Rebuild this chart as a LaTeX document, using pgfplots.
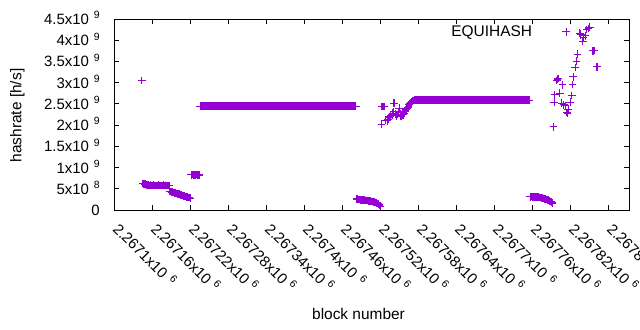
\documentclass[border=0pt]{standalone}
\usepackage{fontspec}
\setmainfont{Liberation Sans}
\usepackage{pgfplots}
\pgfplotsset{compat=1.18}
\usepackage{pgfplotstable}
\definecolor{gpviolet}{HTML}{9400D3}
\newcommand{\fs}{\fontsize{15.5}{18}\selectfont}
\newcommand{\tfs}{\fontsize{15}{18}\selectfont}
\newcommand{\sci}[2]{{\tfs #1x10}\hspace{5bp}\raisebox{5.7bp}{\fontsize{10.5}{12}\selectfont #2}}
\pgfplotsset{rightmark legend/.style={legend image code/.code={\path[draw=none,fill=none] (0bp,-3bp) rectangle (60bp,3bp); \draw[##1] plot coordinates {(32bp,0bp)};}}}
% x = block number - 2267000 (offset kept out for numeric precision)
\pgfplotstableread[row sep=\\]{
x y\\
144 3.05e9\\
145 6.2e8\\ 146 6.2e8\\ 147 6.15e8\\ 148 6.15e8\\ 149 6.1e8\\ 150 6.05e8\\ 151 6.0e8\\ 152 5.95e8\\ 153 5.9e8\\ 154 5.9e8\\
155 5.85e8\\ 156 5.8e8\\ 157 5.8e8\\ 158 5.85e8\\ 159 5.8e8\\ 160 5.75e8\\ 161 5.8e8\\ 162 5.8e8\\ 163 5.85e8\\ 164 5.8e8\\
165 5.75e8\\ 166 5.8e8\\ 167 5.8e8\\ 168 5.75e8\\ 169 5.8e8\\ 170 5.85e8\\ 171 5.8e8\\ 172 5.75e8\\ 173 5.8e8\\ 174 5.8e8\\
175 5.75e8\\ 176 5.8e8\\ 177 5.8e8\\ 178 5.85e8\\ 179 5.8e8\\ 180 5.75e8\\ 181 5.8e8\\ 182 5.8e8\\ 183 5.75e8\\ 184 5.8e8\\
185 5.8e8\\ 186 5.75e8\\ 187 5.8e8\\
188 4.4e8\\ 189 4.35e8\\ 190 4.3e8\\ 191 4.25e8\\ 192 4.2e8\\ 193 4.2e8\\ 194 4.1e8\\ 195 4.05e8\\ 196 4.05e8\\ 197 3.95e8\\
198 3.9e8\\ 199 3.9e8\\ 200 3.85e8\\ 201 3.75e8\\ 202 3.7e8\\ 203 3.7e8\\ 204 3.65e8\\ 205 3.55e8\\ 206 3.5e8\\ 207 3.5e8\\
208 3.45e8\\ 209 3.35e8\\ 210 3.3e8\\ 211 3.3e8\\ 212 3.25e8\\ 213 3.15e8\\ 214 3.1e8\\ 215 3.1e8\\ 216 3.05e8\\ 217 2.95e8\\
218 2.9e8\\ 219 2.9e8\\ 220 2.8e8\\ 221 2.75e8\\
222 8.3e8\\ 223 8.3e8\\ 224 8.4e8\\ 225 8.4e8\\ 226 8.3e8\\ 227 8.3e8\\ 228 8.2e8\\ 229 8.2e8\\ 230 8.35e8\\ 231 8.4e8\\
232 8.3e8\\ 233 8.3e8\\ 234 8.2e8\\ 235 8.25e8\\
236 2.45e9\\ 237 2.45e9\\ 238 2.45e9\\ 239 2.45e9\\ 240 2.45e9\\ 241 2.45e9\\ 242 2.45e9\\ 243 2.45e9\\ 244 2.45e9\\ 245 2.45e9\\
246 2.45e9\\ 247 2.45e9\\ 248 2.45e9\\ 249 2.45e9\\ 250 2.45e9\\ 251 2.45e9\\ 252 2.45e9\\ 253 2.45e9\\ 254 2.45e9\\ 255 2.45e9\\
256 2.45e9\\ 257 2.45e9\\ 258 2.45e9\\ 259 2.45e9\\ 260 2.45e9\\ 261 2.45e9\\ 262 2.45e9\\ 263 2.45e9\\ 264 2.45e9\\ 265 2.45e9\\
266 2.45e9\\ 267 2.45e9\\ 268 2.45e9\\ 269 2.45e9\\ 270 2.45e9\\ 271 2.45e9\\ 272 2.45e9\\ 273 2.45e9\\ 274 2.45e9\\ 275 2.45e9\\
276 2.45e9\\ 277 2.45e9\\ 278 2.45e9\\ 279 2.45e9\\ 280 2.45e9\\ 281 2.45e9\\ 282 2.45e9\\ 283 2.45e9\\ 284 2.45e9\\ 285 2.45e9\\
286 2.45e9\\ 287 2.45e9\\ 288 2.45e9\\ 289 2.45e9\\ 290 2.45e9\\ 291 2.45e9\\ 292 2.45e9\\ 293 2.45e9\\ 294 2.45e9\\ 295 2.45e9\\
296 2.45e9\\ 297 2.45e9\\ 298 2.45e9\\ 299 2.45e9\\ 300 2.45e9\\ 301 2.45e9\\ 302 2.45e9\\ 303 2.45e9\\ 304 2.45e9\\ 305 2.45e9\\
306 2.45e9\\ 307 2.45e9\\ 308 2.45e9\\ 309 2.45e9\\ 310 2.45e9\\ 311 2.45e9\\ 312 2.45e9\\ 313 2.45e9\\ 314 2.45e9\\ 315 2.45e9\\
316 2.45e9\\ 317 2.45e9\\ 318 2.45e9\\ 319 2.45e9\\ 320 2.45e9\\ 321 2.45e9\\ 322 2.45e9\\ 323 2.45e9\\ 324 2.45e9\\ 325 2.45e9\\
326 2.45e9\\ 327 2.45e9\\ 328 2.45e9\\ 329 2.45e9\\ 330 2.45e9\\ 331 2.45e9\\ 332 2.45e9\\ 333 2.45e9\\ 334 2.45e9\\ 335 2.45e9\\
336 2.45e9\\ 337 2.45e9\\ 338 2.45e9\\ 339 2.45e9\\ 340 2.45e9\\ 341 2.45e9\\ 342 2.45e9\\ 343 2.45e9\\ 344 2.45e9\\ 345 2.45e9\\
346 2.45e9\\ 347 2.45e9\\ 348 2.45e9\\ 349 2.45e9\\ 350 2.45e9\\ 351 2.45e9\\ 352 2.45e9\\ 353 2.45e9\\ 354 2.45e9\\ 355 2.45e9\\
356 2.45e9\\ 357 2.45e9\\ 358 2.45e9\\ 359 2.45e9\\ 360 2.45e9\\ 361 2.45e9\\ 362 2.45e9\\ 363 2.45e9\\ 364 2.45e9\\ 365 2.45e9\\
366 2.45e9\\ 367 2.45e9\\ 368 2.45e9\\ 369 2.45e9\\ 370 2.45e9\\ 371 2.45e9\\ 372 2.45e9\\ 373 2.45e9\\ 374 2.45e9\\ 375 2.45e9\\
376 2.45e9\\ 377 2.45e9\\ 378 2.45e9\\ 379 2.45e9\\ 380 2.45e9\\ 381 2.45e9\\ 382 2.45e9\\ 383 2.45e9\\ 384 2.45e9\\ 385 2.45e9\\
386 2.45e9\\ 387 2.45e9\\ 388 2.45e9\\ 389 2.45e9\\ 390 2.45e9\\ 391 2.45e9\\ 392 2.45e9\\ 393 2.45e9\\ 394 2.45e9\\ 395 2.45e9\\
396 2.45e9\\ 397 2.45e9\\ 398 2.45e9\\ 399 2.45e9\\ 400 2.45e9\\ 401 2.45e9\\ 402 2.45e9\\ 403 2.45e9\\ 404 2.45e9\\ 405 2.45e9\\
406 2.45e9\\ 407 2.45e9\\ 408 2.45e9\\ 409 2.45e9\\ 410 2.45e9\\ 411 2.45e9\\ 412 2.45e9\\ 413 2.45e9\\ 414 2.45e9\\ 415 2.45e9\\
416 2.45e9\\ 417 2.45e9\\ 418 2.45e9\\ 419 2.45e9\\ 420 2.45e9\\ 421 2.45e9\\ 422 2.45e9\\ 423 2.45e9\\ 424 2.45e9\\ 425 2.45e9\\
426 2.45e9\\ 427 2.45e9\\ 428 2.45e9\\ 429 2.45e9\\ 430 2.45e9\\ 431 2.45e9\\ 432 2.45e9\\ 433 2.45e9\\ 434 2.45e9\\ 435 2.45e9\\
436 2.45e9\\ 437 2.45e9\\ 438 2.45e9\\ 439 2.45e9\\ 440 2.45e9\\ 441 2.45e9\\ 442 2.45e9\\ 443 2.45e9\\ 444 2.45e9\\ 445 2.45e9\\
446 2.45e9\\ 447 2.45e9\\ 448 2.45e9\\ 449 2.45e9\\ 450 2.45e9\\ 451 2.45e9\\ 452 2.45e9\\ 453 2.45e9\\ 454 2.45e9\\ 455 2.45e9\\
456 2.45e9\\ 457 2.45e9\\ 458 2.45e9\\ 459 2.45e9\\ 460 2.45e9\\ 461 2.45e9\\ 462 2.45e9\\ 463 2.45e9\\ 464 2.45e9\\ 465 2.45e9\\
466 2.45e9\\ 467 2.45e9\\ 468 2.45e9\\ 469 2.45e9\\ 470 2.45e9\\ 471 2.45e9\\ 472 2.45e9\\ 473 2.45e9\\ 474 2.45e9\\ 475 2.45e9\\
476 2.45e9\\ 477 2.45e9\\ 478 2.45e9\\ 479 2.45e9\\ 480 2.45e9\\ 481 2.45e9\\ 482 2.45e9\\
483 2.6e8\\ 484 2.55e8\\ 485 2.5e8\\ 486 2.5e8\\ 487 2.45e8\\ 488 2.45e8\\ 489 2.4e8\\ 490 2.4e8\\ 491 2.4e8\\ 492 2.35e8\\
493 2.35e8\\ 494 2.3e8\\ 495 2.3e8\\ 496 2.3e8\\ 497 2.25e8\\ 498 2.25e8\\ 499 2.2e8\\ 500 2.2e8\\ 501 2.2e8\\ 502 2.15e8\\
503 2.15e8\\ 504 2.1e8\\ 505 2.1e8\\ 506 2.05e8\\ 507 2.05e8\\ 508 2.0e8\\ 509 2.0e8\\ 510 1.95e8\\ 511 1.9e8\\ 512 1.85e8\\
513 1.8e8\\ 514 1.75e8\\ 515 1.65e8\\ 516 1.55e8\\ 517 1.45e8\\ 518 1.3e8\\ 519 1.1e8\\ 520 0.9e8\\
522 2.02e9\\ 523 2.44e9\\ 524 2.44e9\\ 525 2.44e9\\ 526 2.44e9\\ 527 2.44e9\\ 529 2.12e9\\ 531 2.10e9\\ 532 2.12e9\\ 533 2.14e9\\
535 2.18e9\\ 536 2.2e9\\ 537 2.22e9\\ 539 2.24e9\\ 540 2.28e9\\ 541 2.32e9\\ 542 2.52e9\\ 543 2.52e9\\ 544 2.27e9\\ 545 2.25e9\\
546 2.22e9\\ 548 2.25e9\\ 549 2.3e9\\ 550 2.40e9\\ 552 2.26e9\\ 553 2.20e9\\ 554 2.22e9\\ 555 2.24e9\\ 557 2.24e9\\ 558 2.28e9\\
559 2.33e9\\ 560 2.35e9\\ 561 2.36e9\\ 562 2.38e9\\ 563 2.40e9\\ 564 2.42e9\\ 565 2.44e9\\ 566 2.48e9\\ 567 2.5e9\\ 568 2.52e9\\
569 2.54e9\\ 570 2.55e9\\ 572 2.57e9\\ 573 2.58e9\\
574 2.59e9\\ 575 2.59e9\\ 576 2.59e9\\ 577 2.59e9\\ 578 2.59e9\\ 579 2.59e9\\ 580 2.59e9\\ 581 2.59e9\\ 582 2.59e9\\ 583 2.59e9\\
584 2.59e9\\ 585 2.59e9\\ 586 2.59e9\\ 587 2.59e9\\ 588 2.59e9\\ 589 2.59e9\\ 590 2.59e9\\ 591 2.59e9\\ 592 2.59e9\\ 593 2.59e9\\
594 2.59e9\\ 595 2.59e9\\ 596 2.59e9\\ 597 2.59e9\\ 598 2.59e9\\ 599 2.59e9\\ 600 2.59e9\\ 601 2.59e9\\ 602 2.59e9\\ 603 2.59e9\\
604 2.59e9\\ 605 2.59e9\\ 606 2.59e9\\ 607 2.59e9\\ 608 2.59e9\\ 609 2.59e9\\ 610 2.59e9\\ 611 2.59e9\\ 612 2.59e9\\ 613 2.59e9\\
614 2.59e9\\ 615 2.59e9\\ 616 2.59e9\\ 617 2.59e9\\ 618 2.59e9\\ 619 2.59e9\\ 620 2.59e9\\ 621 2.59e9\\ 622 2.59e9\\ 623 2.59e9\\
624 2.59e9\\ 625 2.59e9\\ 626 2.59e9\\ 627 2.59e9\\ 628 2.59e9\\ 629 2.59e9\\ 630 2.59e9\\ 631 2.59e9\\ 632 2.59e9\\ 633 2.59e9\\
634 2.59e9\\ 635 2.59e9\\ 636 2.59e9\\ 637 2.59e9\\ 638 2.59e9\\ 639 2.59e9\\ 640 2.59e9\\ 641 2.59e9\\ 642 2.59e9\\ 643 2.59e9\\
644 2.59e9\\ 645 2.59e9\\ 646 2.59e9\\ 647 2.59e9\\ 648 2.59e9\\ 649 2.59e9\\ 650 2.59e9\\ 651 2.59e9\\ 652 2.59e9\\ 653 2.59e9\\
654 2.59e9\\ 655 2.59e9\\ 656 2.59e9\\ 657 2.59e9\\ 658 2.59e9\\ 659 2.59e9\\ 660 2.59e9\\ 661 2.59e9\\ 662 2.59e9\\ 663 2.59e9\\
664 2.59e9\\ 665 2.59e9\\ 666 2.59e9\\ 667 2.59e9\\ 668 2.59e9\\ 669 2.59e9\\ 670 2.59e9\\ 671 2.59e9\\ 672 2.59e9\\ 673 2.59e9\\
674 2.59e9\\ 675 2.59e9\\ 676 2.59e9\\ 677 2.59e9\\ 678 2.59e9\\ 679 2.59e9\\ 680 2.59e9\\ 681 2.59e9\\ 682 2.59e9\\ 683 2.59e9\\
684 2.59e9\\ 685 2.59e9\\ 686 2.59e9\\ 687 2.59e9\\ 688 2.59e9\\ 689 2.59e9\\ 690 2.59e9\\ 691 2.59e9\\ 692 2.59e9\\ 693 2.59e9\\
694 2.59e9\\ 695 2.59e9\\ 696 2.59e9\\ 697 2.59e9\\ 698 2.59e9\\ 699 2.59e9\\ 700 2.59e9\\ 701 2.59e9\\ 702 2.59e9\\ 703 2.59e9\\
704 2.59e9\\ 705 2.59e9\\ 706 2.59e9\\ 707 2.59e9\\ 708 2.59e9\\ 709 2.59e9\\ 710 2.59e9\\ 711 2.59e9\\ 712 2.59e9\\ 713 2.59e9\\
714 2.59e9\\ 715 2.59e9\\ 716 2.59e9\\ 717 2.59e9\\ 718 2.59e9\\ 719 2.59e9\\ 720 2.59e9\\ 721 2.59e9\\ 722 2.59e9\\ 723 2.59e9\\
724 2.59e9\\ 725 2.59e9\\ 726 2.59e9\\ 727 2.59e9\\ 728 2.59e9\\ 729 2.59e9\\ 730 2.59e9\\ 731 2.59e9\\ 732 2.59e9\\ 733 2.59e9\\
734 2.59e9\\ 735 2.59e9\\ 736 2.59e9\\ 737 2.59e9\\ 738 2.59e9\\ 739 2.59e9\\ 740 2.59e9\\ 741 2.59e9\\ 742 2.59e9\\ 743 2.59e9\\
744 2.59e9\\ 745 2.59e9\\ 746 2.59e9\\ 747 2.59e9\\ 748 2.59e9\\ 749 2.59e9\\ 750 2.59e9\\ 751 2.59e9\\ 752 2.59e9\\ 753 2.59e9\\
754 2.59e9\\ 755 2.59e9\\ 756 2.59e9\\
757 3.1e8\\ 758 3.1e8\\ 759 3.15e8\\ 760 3.15e8\\ 761 3.1e8\\ 762 3.1e8\\ 763 3.1e8\\ 764 3.1e8\\ 765 3.05e8\\ 766 3.05e8\\
767 3.0e8\\ 768 3.0e8\\ 769 3.0e8\\ 770 3.0e8\\ 771 2.95e8\\ 772 2.95e8\\ 773 2.9e8\\ 774 2.9e8\\ 775 2.85e8\\ 776 2.8e8\\
777 2.75e8\\ 778 2.7e8\\ 779 2.65e8\\ 780 2.6e8\\ 781 2.55e8\\ 782 2.5e8\\ 783 2.45e8\\ 784 2.4e8\\ 785 2.35e8\\ 786 2.3e8\\
787 2.2e8\\ 788 2.1e8\\ 789 2.0e8\\ 790 1.9e8\\ 791 1.75e8\\ 792 1.6e8\\
794 1.96e9\\ 795 2.54e9\\ 796 2.71e9\\ 799 3.05e9\\ 800 3.08e9\\ 801 3.1e9\\ 804 2.75e9\\ 807 2.52e9\\ 808 2.95e9\\ 810 2.48e9\\
812 2.46e9\\ 815 2.30e9\\ 816 2.27e9\\ 817 2.36e9\\ 820 2.54e9\\ 823 2.70e9\\ 824 2.96e9\\ 825 3.14e9\\ 828 3.36e9\\ 830 3.51e9\\
832 3.67e9\\ 835 4.17e9\\ 836 4.15e9\\ 837 4.13e9\\ 840 3.97e9\\ 841 4.06e9\\ 844 4.10e9\\ 846 4.25e9\\ 849 4.28e9\\ 850 4.30e9\\
851 4.31e9\\ 856 3.75e9\\ 857 3.75e9\\ 858 3.76e9\\ 862 3.37e9\\ 863 3.37e9\\
}\equihash

\begin{document}
\begin{tikzpicture}[font=\fs]
\begin{axis}[
  scale only axis, width=515bp, height=191bp,
  xmin=100, xmax=913, ymin=0, ymax=4.5e9,
  axis line style={black, line width=0.9bp},
  tick align=inside, major tick length=5bp,
  every tick/.style={black, line width=0.9bp},
  xtick={100,160,220,280,340,400,460,520,580,640,700,760,820,880},
  xticklabels={\sci{2.2671}{6},\sci{2.26716}{6},\sci{2.26722}{6},\sci{2.26728}{6},\sci{2.26734}{6},\sci{2.2674}{6},\sci{2.26746}{6},\sci{2.26752}{6},\sci{2.26758}{6},\sci{2.26764}{6},\sci{2.2677}{6},\sci{2.26776}{6},\sci{2.26782}{6},\sci{2.26788}{6}},
  ytick={0,5e8,1e9,1.5e9,2e9,2.5e9,3e9,3.5e9,4e9,4.5e9},
  yticklabels={{\tfs 0},\sci{5}{8},\sci{1}{9},\sci{1.5}{9},\sci{2}{9},\sci{2.5}{9},\sci{3}{9},\sci{3.5}{9},\sci{4}{9},\sci{4.5}{9}},
  scaled ticks=false,
  xticklabel style={inner sep=0pt, xshift=-2bp, yshift=-20bp, rotate=-45, anchor=base west, font=\tfs},
  yticklabel style={inner sep=0pt, xshift=-14bp, yshift=-5.5bp, anchor=base east, font=\tfs},
  xlabel={block number}, ylabel={hashrate [h/s]},
  xlabel style={at={(axis description cs:0.4748,-0.5707)}, anchor=base, inner sep=0pt, font=\fs},
  ylabel style={at={(axis description cs:-0.18,0.495)}, anchor=base, inner sep=0pt, font=\fs},
  legend style={draw=none, fill=none, font=\fs, at={(axis description cs:0.645,0.932)}, anchor=west},
  legend plot pos=right,
]
\addplot[only marks, mark=+, mark size=3.8bp, line width=1bp, color=gpviolet, rightmark legend]
  table[x=x, y=y] {\equihash};
\addlegendentry{EQUIHASH}
\coordinate (ll) at (rel axis cs:0,0);
\coordinate (ur) at (rel axis cs:1,1);
\end{axis}
\pgfresetboundingbox
\path[use as bounding box] ([xshift=-114bp,yshift=-120bp]ll) rectangle ([xshift=11bp,yshift=19bp]ur);
\end{tikzpicture}
\end{document}
